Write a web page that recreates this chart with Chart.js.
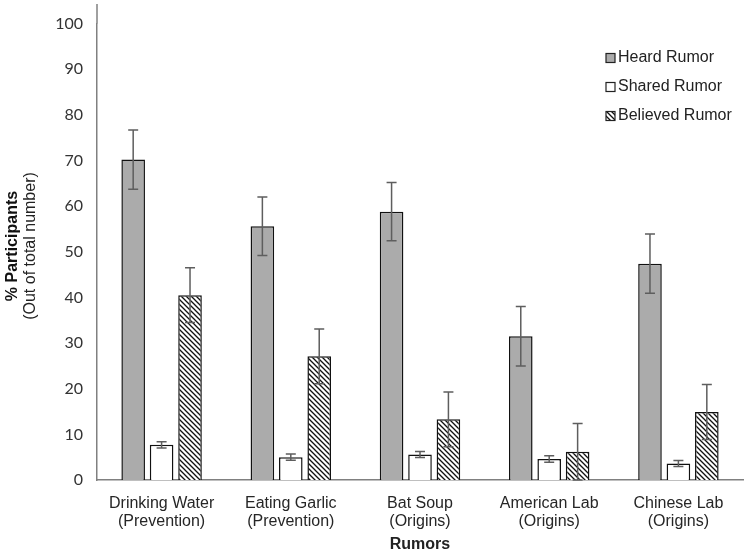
<!DOCTYPE html>
<html lang="en">
<head>
    <meta charset="UTF-8">
    <title>Rumors</title>
    <script src="https://cdn.jsdelivr.net/npm/chart.js"></script>
    <style>
        html, body { margin: 0; padding: 0; background: #fff; }
        #wrap { width: 750px; height: 554px; position: relative; }
    </style>
</head>
<body>
    <div id="wrap"><canvas id="rumorChart"></canvas></div>

    <script>
        const categories = [
            ['Drinking Water', '(Prevention)'],
            ['Eating Garlic', '(Prevention)'],
            ['Bat Soup', '(Origins)'],
            ['American Lab', '(Origins)'],
            ['Chinese Lab', '(Origins)']
        ];
        const seriesNames = ['Heard Rumor', 'Shared Rumor', 'Believed Rumor'];
        const heard = [70.2, 55.6, 58.8, 31.5, 47.4];
        const heardErr = [6.5, 6.4, 6.4, 6.5, 6.5];
        const shared = [7.7, 5.0, 5.6, 4.6, 3.6];
        const sharedErr = [0.7, 0.7, 0.65, 0.7, 0.65];
        const believed = [40.5, 27.1, 13.3, 6.2, 14.9];
        const believedErr = [6.0, 6.0, 6.0, 6.2, 6.0];
        const yTicks = [0, 10, 20, 30, 40, 50, 60, 70, 80, 90, 100];

        const SANS = '"Liberation Sans", Arial, sans-serif';

        // diagonal hatch for the "believed" bars
        function makeHatch() {
            const c = document.createElement('canvas');
            c.width = 5; c.height = 5;
            const g = c.getContext('2d');
            g.fillStyle = '#fff';
            g.fillRect(0, 0, 5, 5);
            g.strokeStyle = '#111';
            g.lineWidth = 1.3;
            g.beginPath();
            g.moveTo(-1, -1); g.lineTo(6, 6);
            g.moveTo(-1, 4); g.lineTo(1, 6);
            g.moveTo(4, -1); g.lineTo(6, 1);
            g.stroke();
            return g.createPattern(c, 'repeat');
        }
        const hatch = makeHatch();
        const fills = ['#ababab', '#ffffff', hatch];
        const errors = [heardErr, sharedErr, believedErr];

        const errorBars = {
            id: 'errorBars',
            afterDatasetsDraw(chart) {
                const ctx = chart.ctx;
                const y = chart.scales.y;
                ctx.save();
                ctx.strokeStyle = '#5e5e5e';
                ctx.lineWidth = 1.5;
                chart.data.datasets.forEach((ds, i) => {
                    const meta = chart.getDatasetMeta(i);
                    meta.data.forEach((bar, j) => {
                        const v = ds.data[j], e = errors[i][j];
                        const top = y.getPixelForValue(v + e);
                        const bot = y.getPixelForValue(v - e);
                        ctx.beginPath();
                        ctx.moveTo(bar.x, top); ctx.lineTo(bar.x, bot);
                        ctx.moveTo(bar.x - 5, top); ctx.lineTo(bar.x + 5, top);
                        ctx.moveTo(bar.x - 5, bot); ctx.lineTo(bar.x + 5, bot);
                        ctx.stroke();
                    });
                });
                ctx.restore();
            }
        };

        // legend stacked inside the plot + two-line y title
        const extras = {
            id: 'extras',
            afterDraw(chart) {
                const ctx = chart.ctx;
                const area = chart.chartArea;
                ctx.save();
                // y axis line runs a little above the 100 tick
                ctx.strokeStyle = '#808080';
                ctx.lineWidth = 1.5;
                ctx.beginPath();
                ctx.moveTo(area.left, 4); ctx.lineTo(area.left, area.top);
                ctx.stroke();

                seriesNames.forEach((name, i) => {
                    const cy = 58 + i * 29;
                    ctx.fillStyle = fills[i];
                    ctx.fillRect(606, cy - 4.5, 9, 9);
                    ctx.strokeStyle = '#222';
                    ctx.lineWidth = 1.2;
                    ctx.strokeRect(606, cy - 4.5, 9, 9);
                    ctx.fillStyle = '#222';
                    ctx.font = '16px ' + SANS;
                    ctx.textBaseline = 'middle';
                    ctx.textAlign = 'left';
                    ctx.fillText(name, 618, cy);
                });

                ctx.translate(0, 246);
                ctx.rotate(-Math.PI / 2);
                ctx.textAlign = 'center';
                ctx.textBaseline = 'middle';
                ctx.fillStyle = '#111';
                ctx.font = 'bold 16px ' + SANS;
                ctx.fillText('% Participants', 0, 13);
                ctx.fillStyle = '#222';
                ctx.font = '16px ' + SANS;
                ctx.fillText('(Out of total number)', 0, 31);
                ctx.restore();
            }
        };

        new Chart(document.getElementById('rumorChart'), {
            type: 'bar',
            data: {
                labels: categories,
                datasets: [
                    { label: seriesNames[0], data: heard, backgroundColor: fills[0] },
                    { label: seriesNames[1], data: shared, backgroundColor: fills[1] },
                    { label: seriesNames[2], data: believed, backgroundColor: fills[2] }
                ]
            },
            options: {
                responsive: true,
                maintainAspectRatio: false,
                animation: false,
                layout: { padding: { top: 12, right: 7, bottom: 0, left: 0 } },
                datasets: {
                    bar: {
                        borderColor: '#111',
                        borderWidth: 1.5,
                        categoryPercentage: 0.66,
                        barPercentage: 0.83
                    }
                },
                plugins: {
                    legend: { display: false },
                    tooltip: { enabled: false }
                },
                scales: {
                    x: {
                        grid: { display: false, drawTicks: false },
                        border: { color: '#808080', width: 1.5 },
                        ticks: {
                            color: '#262626',
                            padding: 14,
                            maxRotation: 0,
                            font: { family: SANS, size: 16, lineHeight: 1.15 }
                        },
                        title: {
                            display: true,
                            text: 'Rumors',
                            color: '#222',
                            font: { family: SANS, size: 16, weight: 'bold' },
                            padding: { top: 4, bottom: 0 }
                        },
                        afterFit(scale) { scale.height = 74; }
                    },
                    y: {
                        min: 0,
                        max: 100,
                        grid: { display: false, drawTicks: false },
                        border: { color: '#808080', width: 1.5 },
                        afterBuildTicks(scale) { scale.ticks = yTicks.map(v => ({ value: v })); },
                        ticks: {
                            color: '#333',
                            padding: 14,
                            font: { family: 'Lato, sans-serif', size: 16 }
                        },
                        afterFit(scale) { scale.width = 97; }
                    }
                }
            },
            plugins: [errorBars, extras]
        });
    </script>
</body>
</html>
